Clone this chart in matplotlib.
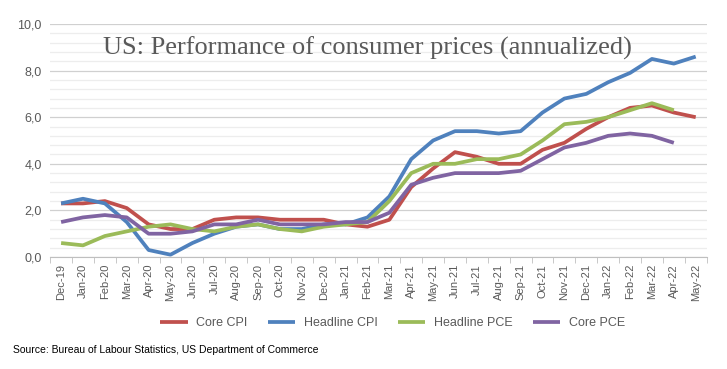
import matplotlib
matplotlib.use('Agg')
from matplotlib import pyplot as plt
from matplotlib.ticker import MultipleLocator, FuncFormatter

months = ['Dec-19', 'Jan-20', 'Feb-20', 'Mar-20', 'Apr-20', 'May-20', 'Jun-20', 'Jul-20',
          'Aug-20', 'Sep-20', 'Oct-20', 'Nov-20', 'Dec-20', 'Jan-21', 'Feb-21', 'Mar-21',
          'Apr-21', 'May-21', 'Jun-21', 'Jul-21', 'Aug-21', 'Sep-21', 'Oct-21', 'Nov-21',
          'Dec-21', 'Jan-22', 'Feb-22', 'Mar-22', 'Apr-22', 'May-22']

core_cpi = [2.3, 2.3, 2.4, 2.1, 1.4, 1.2, 1.2, 1.6, 1.7, 1.7, 1.6, 1.6, 1.6, 1.4, 1.3,
            1.6, 3.0, 3.8, 4.5, 4.3, 4.0, 4.0, 4.6, 4.9, 5.5, 6.0, 6.4, 6.5, 6.2, 6.0]
headline_cpi = [2.3, 2.5, 2.3, 1.5, 0.3, 0.1, 0.6, 1.0, 1.3, 1.4, 1.2, 1.2, 1.4, 1.4, 1.7,
                2.6, 4.2, 5.0, 5.4, 5.4, 5.3, 5.4, 6.2, 6.8, 7.0, 7.5, 7.9, 8.5, 8.3, 8.6]
headline_pce = [0.6, 0.5, 0.9, 1.1, 1.3, 1.4, 1.2, 1.1, 1.3, 1.4, 1.2, 1.1, 1.3, 1.4, 1.5,
                2.4, 3.6, 4.0, 4.0, 4.2, 4.2, 4.4, 5.0, 5.7, 5.8, 6.0, 6.3, 6.6, 6.3]
core_pce = [1.5, 1.7, 1.8, 1.7, 1.0, 1.0, 1.1, 1.4, 1.4, 1.6, 1.4, 1.4, 1.4, 1.5, 1.5,
            1.9, 3.1, 3.4, 3.6, 3.6, 3.6, 3.7, 4.2, 4.7, 4.9, 5.2, 5.3, 5.2, 4.9]

series = [('Core CPI', core_cpi, '#C0504D'),
          ('Headline CPI', headline_cpi, '#4F81BD'),
          ('Headline PCE', headline_pce, '#9BBB59'),
          ('Core PCE', core_pce, '#8064A2')]

plt.rcParams['font.family'] = ['Liberation Sans', 'DejaVu Sans']
txt = '#595959'

fig = plt.figure(figsize=(7.27, 3.69), dpi=100)
ax = fig.add_axes([0.069, 0.3035, 0.903, 0.6315])

for name, vals, col in series:
    ax.plot(range(len(vals)), vals, color=col, lw=2.7, label=name, solid_capstyle='butt')

ax.set_xlim(-0.5, len(months) - 0.5)
ax.set_ylim(0, 10)
ax.yaxis.set_major_locator(MultipleLocator(2))
ax.yaxis.set_minor_locator(MultipleLocator(0.4))
ax.yaxis.set_major_formatter(FuncFormatter(lambda v, p: f'{v:.1f}'.replace('.', ',')))
ax.grid(axis='y', which='major', color='#D0D0D0', lw=0.9)
ax.grid(axis='y', which='minor', color='#EDEDED', lw=0.9)
ax.set_axisbelow(True)

ax.set_xticks(range(len(months)))
ax.set_xticklabels(months, rotation=90, fontsize=8, color=txt)
ax.set_xticks([i - 0.5 for i in range(len(months) + 1)], minor=True)
ax.tick_params(axis='x', which='major', length=0, pad=5)
ax.tick_params(axis='x', which='minor', length=4, color='#BFBFBF')
ax.tick_params(axis='y', which='both', length=0, labelsize=9, labelcolor=txt, pad=6)

for s in ['top', 'right', 'left']:
    ax.spines[s].set_visible(False)
ax.spines['bottom'].set_color('#BFBFBF')

fig.text(0.5 * (105 + 630) / 727, 1 - 48 / 369, 'US: Performance of consumer prices (annualized)',
         ha='center', va='center', fontsize=19,
         family=['Liberation Serif', 'DejaVu Serif'], color=txt)

fig.legend(loc='center', bbox_to_anchor=(0.54, 1 - 323 / 369), ncol=4, frameon=False,
           fontsize=9, handlelength=2.2, handletextpad=0.7, columnspacing=1.6, labelcolor=txt)

fig.text(13 / 727, 1 - 350 / 369, 'Source: Bureau of Labour Statistics, US Department of Commerce',
         fontsize=7.5, color='black', va='center')

fig.savefig('out.png', dpi=100)
